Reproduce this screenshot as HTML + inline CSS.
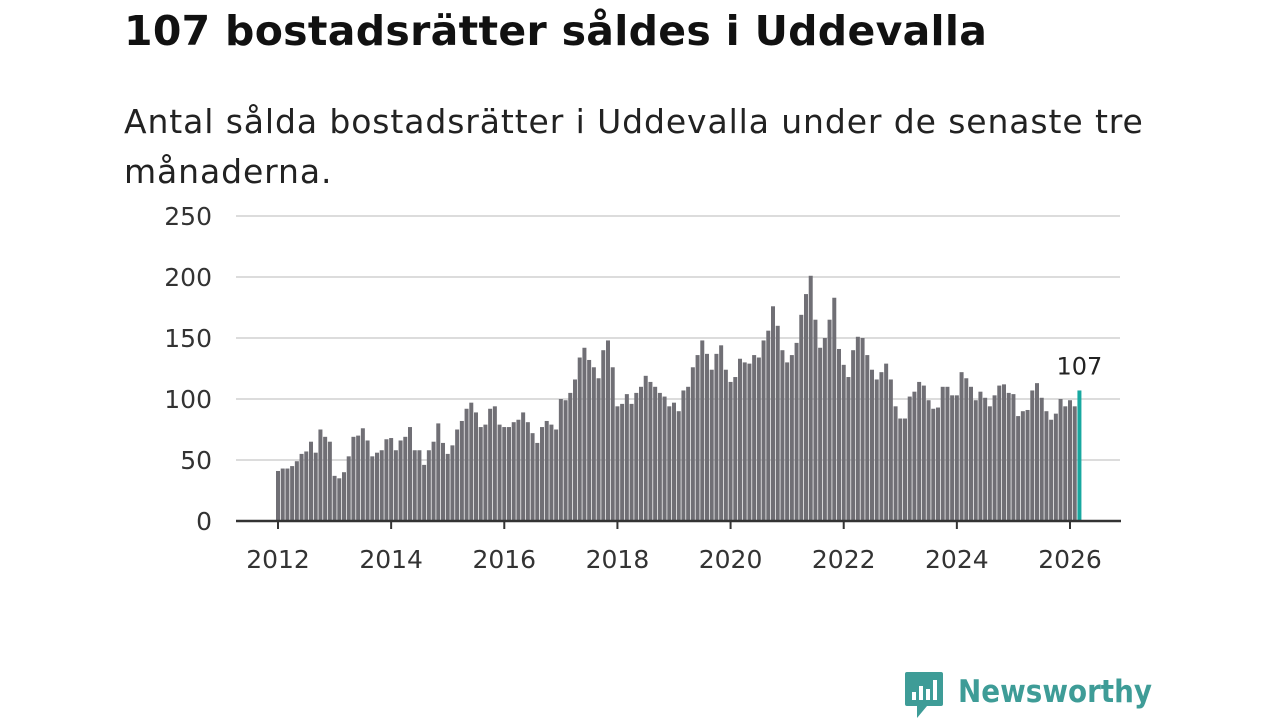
<!DOCTYPE html>
<html><head><meta charset="utf-8">
<style>
body{margin:0;background:#fff;width:1280px;height:720px;overflow:hidden;font-family:"Liberation Sans","DejaVu Sans",sans-serif;position:relative}
#title{position:absolute;left:124px;top:7px;font-size:41px;font-weight:bold;color:#111;font-family:"DejaVu Sans","Liberation Sans",sans-serif;letter-spacing:0.3px}
#sub{position:absolute;left:124px;top:97px;font-size:33px;line-height:50px;color:#222;width:1100px;font-family:"DejaVu Sans","Liberation Sans",sans-serif;letter-spacing:0.9px}
#logo{position:absolute;left:903px;top:670px}
</style></head><body>
<div id="title">107 bostadsrätter såldes i Uddevalla</div>
<div id="sub">Antal sålda bostadsrätter i Uddevalla under de senaste tre<br>månaderna.</div>
<svg id="chart" width="1280" height="720" style="position:absolute;left:0;top:0"></svg>
<svg id="logo" width="300" height="50">
<path d="M2 4 Q2 2 4 2 L38 2 Q40 2 40 4 L40 34 Q40 36 38 36 L24 36 L14 48 L14 36 L4 36 Q2 36 2 34 Z" fill="#3e9c97"/>
<rect x="9" y="22" width="4" height="8" fill="#fff"/><rect x="16" y="16" width="4" height="14" fill="#fff"/><rect x="23" y="19" width="4" height="11" fill="#fff"/><rect x="30" y="10" width="4" height="20" fill="#fff"/>
<text x="55" y="32" font-size="31" fill="#3e9c97" font-family="DejaVu Sans, Liberation Sans, sans-serif" font-weight="bold" textLength="194" lengthAdjust="spacingAndGlyphs">Newsworthy</text>
</svg>
<script>
const values=[41,43,43,45,49,55,57,65,56,75,69,65,
37,35,40,53,69,70,76,66,53,56,58,67,
68,58,66,69,77,58,58,46,58,65,80,64,
55,62,75,82,92,97,89,77,79,92,94,79,
77,77,81,83,89,81,72,64,77,82,79,75,
100,99,105,116,134,142,132,126,117,140,148,126,
94,96,104,96,105,110,119,114,110,105,102,94,
97,90,107,110,126,136,148,137,124,137,144,124,
114,118,133,130,129,136,134,148,156,176,160,140,
130,136,146,169,186,201,165,142,150,165,183,141,
128,118,140,151,150,136,124,116,122,129,116,94,
84,84,102,106,114,111,99,92,93,110,110,103,
103,122,117,110,99,106,101,94,103,111,112,105,
104,86,90,91,107,113,101,90,83,88,100,94,
99,94,107];
const yTicks=[0,50,100,150,200,250];
const xTicks=[2012,2014,2016,2018,2020,2022,2024,2026];
const startYear=2012;
const svg=document.getElementById('chart');
const NS='http://www.w3.org/2000/svg';
const y0=521,yPer=305/250,x2012=278,perYear=(1070-278)/14;
const ys=v=>y0-v*yPer;
const xs=m=>x2012+m*perYear/12;
function mk(t,a){const e=document.createElementNS(NS,t);for(const k in a)e.setAttribute(k,a[k]);svg.appendChild(e);return e;}
yTicks.forEach(v=>{
 if(v>0){const g=mk('line',{x1:236,x2:1120,y1:ys(v),y2:ys(v),stroke:'#dcdcdc','stroke-width':2});
 
 }
 const t=mk('text',{x:212,y:ys(v)+9,'text-anchor':'end','font-size':25,fill:'#333','font-family':'DejaVu Sans, Liberation Sans, sans-serif'});
 t.textContent=v;
 
 
});
values.forEach((v,i)=>{
 const last=i===values.length-1;
 const r=mk('rect',{x:xs(i)-2,y:ys(v),width:4,height:v*yPer,fill:last?'#18a8a0':'#706f75'});
 
 
 if(last){const t=mk('text',{x:xs(i),y:ys(v)-16,'text-anchor':'middle','font-size':24,fill:'#222','font-family':'DejaVu Sans, Liberation Sans, sans-serif'});
 t.textContent=v;
 
 }
});
const ax=mk('line',{x1:236,x2:1121,y1:y0,y2:y0,stroke:'#333','stroke-width':2.5});


xTicks.forEach(yr=>{
 const x=xs((yr-startYear)*12);
 const tk=mk('line',{x1:x,x2:x,y1:y0,y2:y0+8,stroke:'#333','stroke-width':2});
 
 
 const t=mk('text',{x:x,y:568,'text-anchor':'middle','font-size':25,fill:'#333','font-family':'DejaVu Sans, Liberation Sans, sans-serif'});
 t.textContent=yr;
 
 
});
</script>
</body></html>
